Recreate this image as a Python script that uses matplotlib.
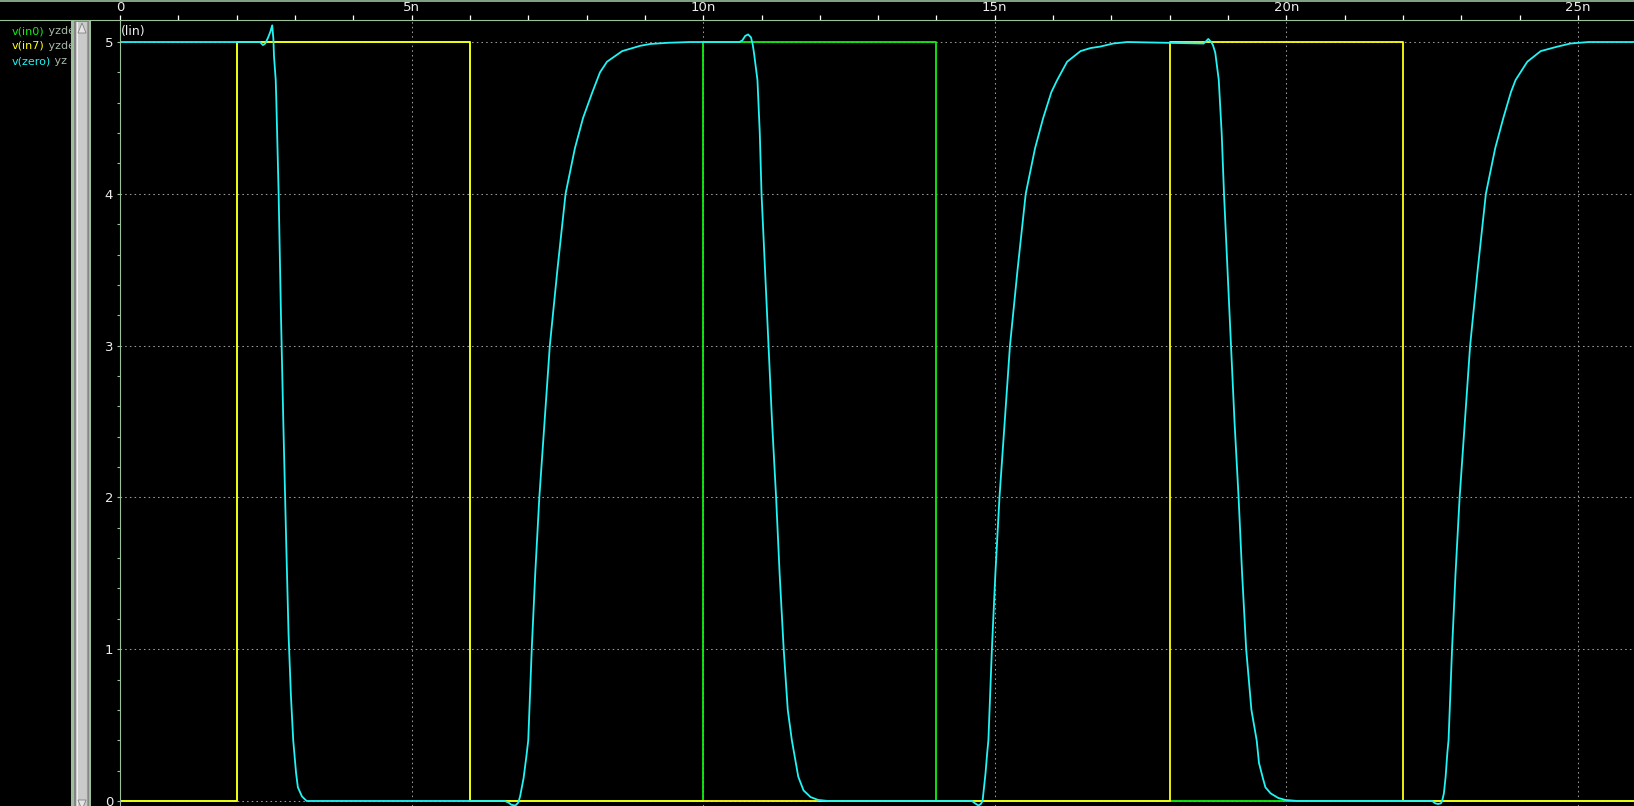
import matplotlib
matplotlib.use('Agg')
import matplotlib.pyplot as plt
from matplotlib.patches import Rectangle, Polygon
from matplotlib.lines import Line2D
from matplotlib.ticker import MultipleLocator

# --- data (time in ns, volts) ---
t_in0 = [0, 2.0, 2.0, 6.0, 6.0, 10.0, 10.0, 14.0, 14.0, 26.0]
v_in0 = [0, 0, 5, 5, 0, 0, 5, 5, 0, 0]

t_in7 = [0, 2.0, 2.0, 6.0, 6.0, 18.0, 18.0, 22.0, 22.0, 26.0]
v_in7 = [0, 0, 5, 5, 0, 0, 5, 5, 0, 0]

t_zero = [0, 2.40, 2.45, 2.49, 2.54, 2.58, 2.61, 2.63, 2.64, 2.67, 2.68, 2.72, 2.76, 2.80,
          2.85, 2.89, 2.93, 2.97, 3.00, 3.02, 3.05, 3.12, 3.20,
          6.60, 6.66, 6.71, 6.78, 6.83, 6.86, 6.92, 6.97, 7.00, 7.06, 7.12, 7.19, 7.28, 7.37,
          7.50, 7.64, 7.80, 7.94, 8.10, 8.23, 8.35, 8.61, 8.92, 9.09, 9.40, 9.78,
          10.62, 10.67, 10.72, 10.77, 10.82, 10.85, 10.87, 10.93, 10.97, 11.00, 11.06, 11.12,
          11.18, 11.25, 11.31, 11.38, 11.45, 11.52, 11.58, 11.63, 11.72, 11.84, 11.97, 12.14,
          14.61, 14.66, 14.72, 14.76, 14.79, 14.81, 14.84, 14.87, 14.89, 14.95, 15.01, 15.08,
          15.17, 15.26, 15.39, 15.53, 15.69, 15.83, 15.97, 16.07, 16.24, 16.47, 16.64, 16.81,
          17.03, 17.27,
          18.58, 18.61, 18.66, 18.71, 18.74, 18.78, 18.81, 18.84, 18.89, 18.93, 18.99, 19.05,
          19.11, 19.18, 19.24, 19.31, 19.40, 19.49, 19.53, 19.59, 19.64, 19.73, 19.86, 19.98, 20.19,
          22.50, 22.55, 22.60, 22.65, 22.67, 22.70, 22.73, 22.76, 22.78, 22.84, 22.90, 22.97,
          23.06, 23.15, 23.28, 23.42, 23.58, 23.72, 23.85, 23.93, 24.13, 24.36, 24.65, 24.87,
          25.18, 26.0]
v_zero = [5.0, 5.0, 4.98, 4.99, 5.03, 5.07, 5.11, 5.02, 4.91, 4.75, 4.62, 4.0, 3.2, 2.5,
          1.7, 1.1, 0.7, 0.4, 0.27, 0.18, 0.09, 0.03, 0.0,
          0.0, -0.01, -0.025, -0.03, -0.01, 0.03, 0.15, 0.3, 0.4, 1.0, 1.5, 2.0, 2.5, 3.0,
          3.5, 4.0, 4.3, 4.5, 4.67, 4.8, 4.87, 4.94, 4.975, 4.987, 4.995, 5.0,
          5.0, 5.01, 5.04, 5.05, 5.03, 4.98, 4.93, 4.75, 4.4, 4.0, 3.5, 3.0,
          2.5, 2.0, 1.5, 1.0, 0.6, 0.4, 0.27, 0.16, 0.07, 0.026, 0.007, 0.0,
          0.0, -0.015, -0.03, -0.02, 0.0, 0.07, 0.18, 0.32, 0.4, 1.0, 1.5, 2.0,
          2.5, 3.0, 3.5, 4.0, 4.3, 4.5, 4.67, 4.75, 4.87, 4.94, 4.96, 4.97,
          4.99, 5.0,
          4.99, 5.0, 5.02, 5.0, 4.98, 4.93, 4.84, 4.75, 4.4, 4.0, 3.5, 3.0,
          2.5, 2.0, 1.5, 1.0, 0.6, 0.4, 0.25, 0.16, 0.09, 0.05, 0.02, 0.007, 0.0,
          0.0, -0.015, -0.02, -0.015, 0.0, 0.05, 0.16, 0.32, 0.4, 1.0, 1.5, 2.0,
          2.5, 3.0, 3.5, 4.0, 4.3, 4.5, 4.67, 4.75, 4.87, 4.94, 4.97, 4.99,
          5.0, 5.0]

x_major = [0, 5, 10, 15, 20, 25]
x_labels = ['0', '5n', '10n', '15n', '20n', '25n']
y_major = [0, 1, 2, 3, 4, 5]

legend_names = ['v(in0)', 'v(in7)', 'v(zero)']
legend_rest = [' yzde', ' yzde', ' yz']

c_in0 = '#10f010'
c_in7 = '#ffff10'
c_zero = '#20f4f4'
frame = '#9cbf9c'
txt = '#ececec'
gray_txt = '#a8b8a8'

W, H = 1634, 806


def box(x0, y0, x1, y1):
    # pixel box (top-left origin) -> figure fraction rect
    return [x0 / W, 1 - y1 / H, (x1 - x0) / W, (y1 - y0) / H]


fig = plt.figure(figsize=(W / 100, H / 100), dpi=100, facecolor='black')

ax = fig.add_axes(box(120, 20, W, H))
ax.set_facecolor('black')
ax.set_xlim(0, 25.96)
ax.set_ylim(-0.033, 5.145)

ax.plot(t_in0, v_in0, color=c_in0, lw=1.3, zorder=3)
ax.plot(t_in7, v_in7, color=c_in7, lw=1.3, zorder=4)
ax.plot(t_zero, v_zero, color=c_zero, lw=1.3, zorder=5)

for s in ['right', 'bottom', 'top']:
    ax.spines[s].set_visible(False)
ax.spines['left'].set_color(frame)
ax.spines['left'].set_linewidth(0.8)
ax.spines['left'].set_zorder(6)

ax.xaxis.set_ticks_position('top')
ax.set_xticks(x_major)
ax.set_xticklabels(x_labels)
ax.xaxis.set_minor_locator(MultipleLocator(1))
ax.tick_params(axis='x', which='both', direction='out', length=3.5, width=0.9,
               color='white', labelcolor=txt, labelsize=9.5, pad=0.5)

ax.set_yticks(y_major)
ax.set_yticklabels([str(v) for v in y_major])
ax.yaxis.set_minor_locator(MultipleLocator(0.2))
ax.tick_params(axis='y', which='both', direction='out', length=2.5, width=0.8,
               color=frame, labelcolor=txt, labelsize=9.5, pad=2.5)

ax.grid(True, which='major', color='#9a9a9a', linestyle=(0, (1.5, 3)), linewidth=0.75, zorder=1)
ax.set_axisbelow(True)

# full-width frame lines at the top
fig.add_artist(Line2D([0, 1], [1 - 20 / H] * 2, transform=fig.transFigure, color=frame, lw=0.8))
fig.add_artist(Line2D([0, 1], [1 - 1 / H] * 2, transform=fig.transFigure, color=frame, lw=1.2))

fig.text(121 / W, 1 - 31 / H, '(lin)', color=txt, fontsize=9, va='center', ha='left')

# signal names in the left panel
r = fig.canvas.get_renderer()
for i, (name, rest, col) in enumerate(zip(legend_names, legend_rest, [c_in0, c_in7, c_zero])):
    y = 1 - (31 + 15 * i) / H
    t1 = fig.text(12 / W, y, name, color=col, fontsize=8, va='center', ha='left')
    bb = t1.get_window_extent(renderer=r)
    fig.text(bb.x1 / W, y, rest, color=gray_txt, fontsize=8, va='center', ha='left')

# scroll bar (drawn over the names so they look cut off)
fig.add_artist(Rectangle(box(71, 20, 91, H)[:2], 20 / W, (H - 20) / H, transform=fig.transFigure,
                         facecolor=frame, edgecolor='none', zorder=5))
fig.add_artist(Rectangle(box(74, 21, 89, H)[:2], 15 / W, (H - 21) / H, transform=fig.transFigure,
                         facecolor='#858585', edgecolor='none', zorder=5))
fig.add_artist(Rectangle(box(76, 22, 88, H)[:2], 12 / W, (H - 22) / H, transform=fig.transFigure,
                         facecolor='#cacaca', edgecolor='none', zorder=5))
fig.add_artist(Line2D([87 / W] * 2, [0, 1 - 22 / H], transform=fig.transFigure, color='#9a9a9a',
                      lw=0.8, zorder=6))
fig.add_artist(Line2D([77 / W] * 2, [0, 1 - 22 / H], transform=fig.transFigure, color='#eeeeee',
                      lw=0.8, zorder=6))
up = [(78 / W, 1 - 33 / H), (82 / W, 1 - 23 / H), (86 / W, 1 - 33 / H)]
fig.add_artist(Polygon(up, closed=True, transform=fig.transFigure, facecolor='#e4e4e4',
                       edgecolor='#808080', lw=0.6, zorder=7))
down = [(78 / W, 1 - 800 / H), (82 / W, 1 - 810 / H), (86 / W, 1 - 800 / H)]
fig.add_artist(Polygon(down, closed=True, transform=fig.transFigure, facecolor='#e4e4e4',
                       edgecolor='#808080', lw=0.6, zorder=7))

fig.savefig('out.png', dpi=100, facecolor='black')
